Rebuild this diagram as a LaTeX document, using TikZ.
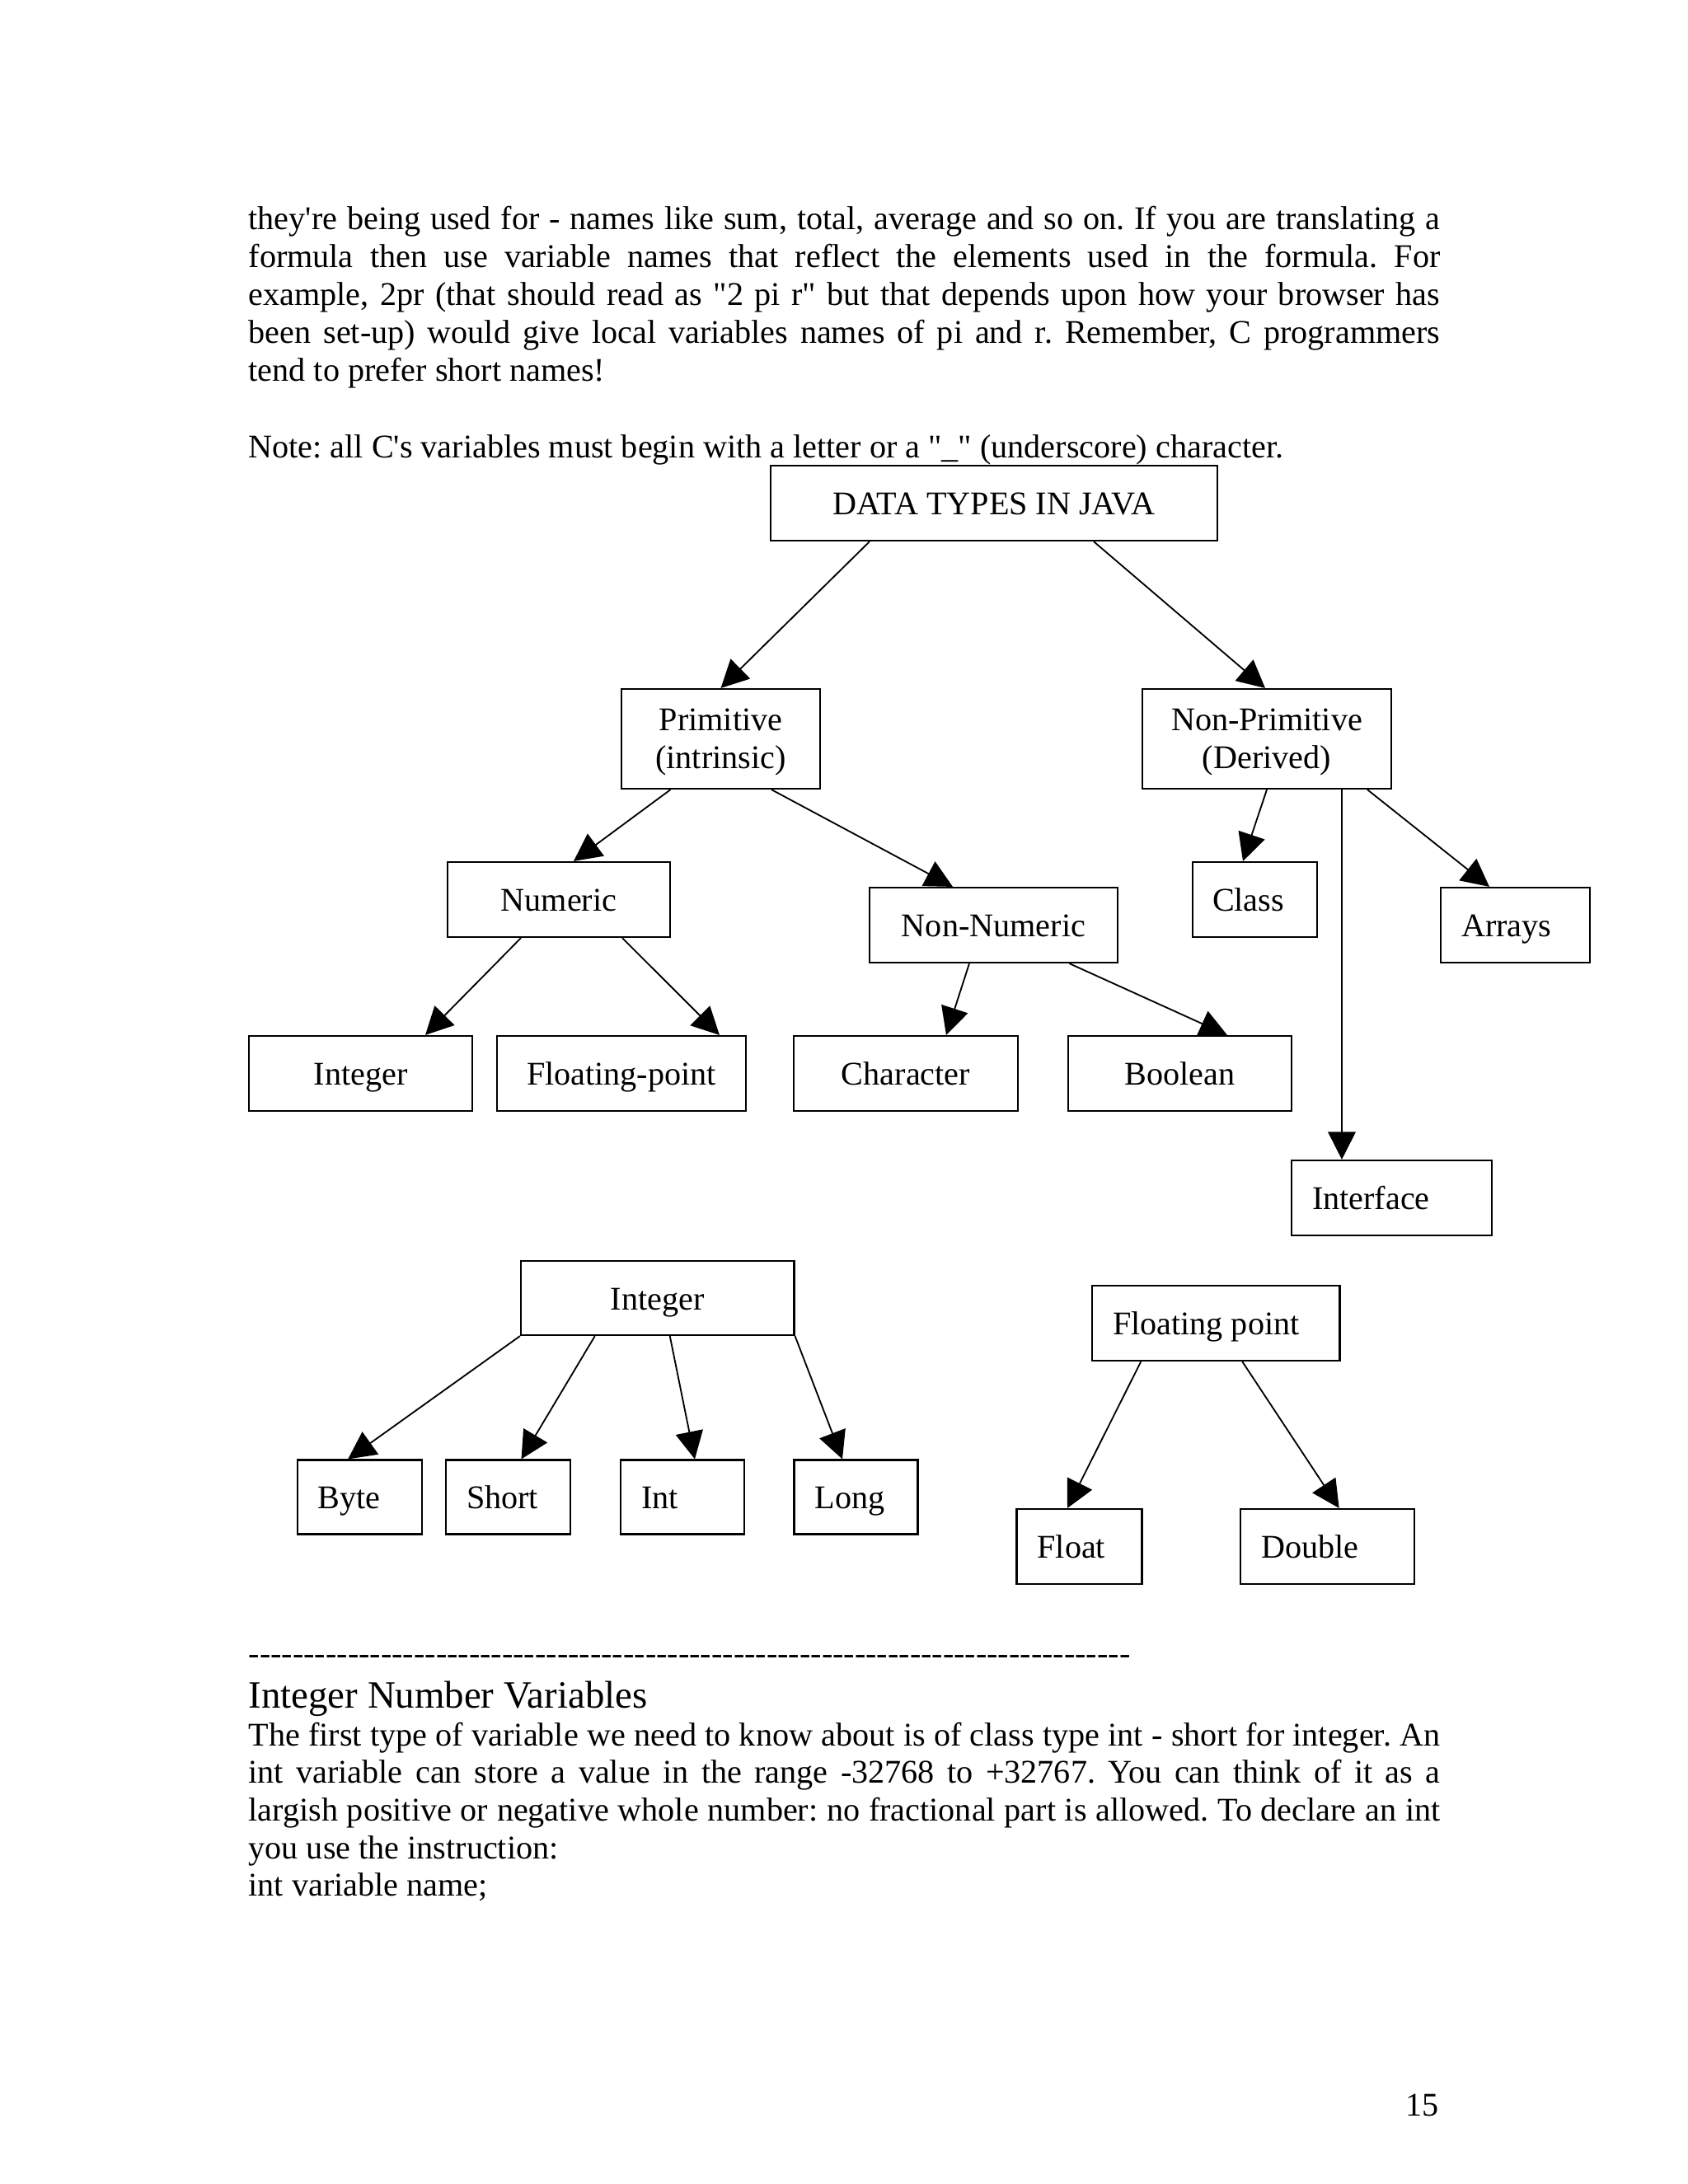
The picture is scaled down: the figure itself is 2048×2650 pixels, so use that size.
\documentclass[tikz,border=0pt]{standalone}
\usepackage{fontspec}
\newfontfamily\tnr{Liberation Serif}
\usetikzlibrary{arrows.meta}
\frenchspacing
\newdimen\pxu \pxu=0.29883pt
\newcommand{\lbx}[2]{\makebox[\dimexpr#1\pxu-50\pxu\relax][l]{#2}}
\newcommand{\twol}[2]{\begin{tabular}[b]{@{}c@{}}#1\\#2\end{tabular}}
\newcommand{\jline}[1]{\makebox[432pt][s]{#1}}
\begin{document}
\begin{tikzpicture}[x=0.29883pt, y=-0.29883pt,
  box/.style={draw, line width=0.65pt, inner sep=0pt, font=\tnr\frenchspacing\fontsize{12}{13.8}\selectfont, text height=8.4pt, text depth=0pt},
  two/.style={box, text height=21.8pt},
  sz/.style 2 args={minimum width=#1\pxu, minimum height=#2\pxu},
  txt/.style={inner sep=0pt, anchor=base west, font=\tnr\frenchspacing\fontsize{12}{13.8}\selectfont},
  conn/.style={line width=0.55pt, -{Triangle[length=10pt,width=10pt]}}]
\fill[white] (0,0) rectangle (2048,2650);
\useasboundingbox (0,0) rectangle (2048,2650);

% top paragraph
\node[txt] (t1) at (301,278) {\jline{they're being used for - names like sum, total, average and so on. If you are translating a}};
\node[txt] (t2) at (301,324.2) {\jline{formula then use variable names that reflect the elements used in the formula. For}};
\node[txt] (t3) at (301,370.4) {\jline{example, 2pr (that should read as "2 pi r" but that depends upon how your browser has}};
\node[txt] (t4) at (301,416.6) {\jline{been set-up) would give local variables names of pi and r. Remember, C programmers}};
\node[txt] (t5) at (301,462.8) {tend to prefer short names!};
\node[txt] (t6) at (301,555) {Note: all C's variables must begin with a letter or a "\_" (underscore) character.};

% diagram 1
\node[box, sz={542}{91}] (data) at (1206,610.5) {DATA TYPES IN JAVA};
\node[two, sz={241}{121}] (prim) at (874.5,896.5) {\twol{Primitive}{(intrinsic)}};
\node[two, sz={302}{121}] (nprim) at (1537,896.5) {\twol{Non-Primitive}{(Derived)}};
\node[box, sz={270}{91}] (num) at (678,1091.5) {Numeric};
\node[box, sz={301}{91}] (nnum) at (1205.5,1122.5) {Non-Numeric};
\node[box, sz={151}{91}, inner xsep=24\pxu] (cls) at (1522.5,1091.5) {\makebox[103\pxu][l]{Class}};
\node[box, sz={181}{91}, inner xsep=25\pxu] (arr) at (1838.5,1122.5) {\lbx{181}{Arrays}};
\node[box, sz={271}{91}] (int) at (437.5,1302.5) {Integer};
\node[box, sz={302}{91}] (fp) at (754,1302.5) {Floating-point};
\node[box, sz={272}{91}] (chr) at (1099,1302.5) {Character};
\node[box, sz={271}{91}] (bool) at (1431.5,1302.5) {Boolean};
\node[box, sz={243}{91}, inner xsep=25\pxu] (intf) at (1688.5,1453.5) {\lbx{243}{Interface}};

\draw[conn] ([xshift=-151\pxu]data.south) -- (prim.north);
\draw[conn] ([xshift=121\pxu]data.south) -- ([xshift=-2\pxu]nprim.north);
\draw[conn] ([xshift=-61\pxu]prim.south) -- ([xshift=18\pxu]num.north);
\draw[conn] ([xshift=61.5\pxu]prim.south) -- ([xshift=-49.5\pxu]nnum.north);
\draw[conn] (nprim.south) -- ([xshift=-14.5\pxu]cls.north);
\draw[conn] ([xshift=91\pxu]nprim.south) -- ([xshift=-60.5\pxu]intf.north);
\draw[conn] ([xshift=122\pxu]nprim.south) -- ([xshift=-31.5\pxu]arr.north);
\draw[conn] ([xshift=-46\pxu]num.south) -- ([xshift=78.5\pxu]int.north);
\draw[conn] ([xshift=77\pxu]num.south) -- ([xshift=119\pxu]fp.north);
\draw[conn] ([xshift=-29.5\pxu]nnum.south) -- ([xshift=49\pxu]chr.north);
\draw[conn] ([xshift=92\pxu]nnum.south) -- ([xshift=57.5\pxu]bool.north);

% diagram 2
\node[box, sz={331.5}{90}] (int2) at (797.75,1575) {Integer};
\node[box, sz={300.5}{91}, inner xsep=25\pxu] (fp2) at (1475.25,1605.5) {\lbx{300.5}{Floating point}};
\node[box, sz={151}{90}, inner xsep=25\pxu] (byte) at (436.2,1816.5) {\lbx{151}{Byte}};
\node[box, sz={151}{90}, inner xsep=25\pxu] (short) at (616.5,1816.5) {\lbx{151}{Short}};
\node[box, sz={150}{90}, inner xsep=25\pxu] (intt) at (828,1816.5) {\lbx{150}{Int}};
\node[box, sz={150}{90}, inner xsep=25\pxu] (long) at (1038.5,1816.5) {\lbx{150}{Long}};
\node[box, sz={152}{91}, inner xsep=25\pxu] (flt) at (1309.5,1876.5) {\lbx{152}{Float}};
\node[box, sz={211}{91}, inner xsep=25\pxu] (dbl) at (1610.7,1876.5) {\lbx{211}{Double}};

\draw[conn] (int2.south west) -- ([xshift=-14\pxu]byte.north);
\draw[conn] ([xshift=-76\pxu]int2.south) -- ([xshift=16\pxu]short.north);
\draw[conn] ([xshift=15\pxu]int2.south) -- ([xshift=15\pxu]intt.north);
\draw[conn] (int2.south east) -- ([xshift=-16.5\pxu]long.north);
\draw[conn] ([xshift=-91\pxu]fp2.south) -- ([xshift=-14.5\pxu]flt.north);
\draw[conn] ([xshift=32\pxu]fp2.south) -- ([xshift=14\pxu]dbl.north);

% bottom text
\node[txt] (dash) at (301,2019) {--------------------------------------------------------------------------------};
\node[txt, font=\tnr\frenchspacing\fontsize{14}{16.1}\selectfont] (head) at (301,2072) {Integer Number Variables};
\node[txt] (b1) at (301,2118) {\jline{The first type of variable we need to know about is of class type int - short for integer. An}};
\node[txt] (b2) at (301,2163.5) {\jline{int variable can store a value in the range -32768 to +32767. You can think of it as a}};
\node[txt] (b3) at (301,2209) {\jline{largish positive or negative whole number: no fractional part is allowed. To declare an int}};
\node[txt] (b4) at (301,2255) {you use the instruction:};
\node[txt] (b5) at (301,2300.5) {int variable name;};
\node[txt, anchor=base east] (pg) at (1746,2567) {15};
\end{tikzpicture}
\end{document}
